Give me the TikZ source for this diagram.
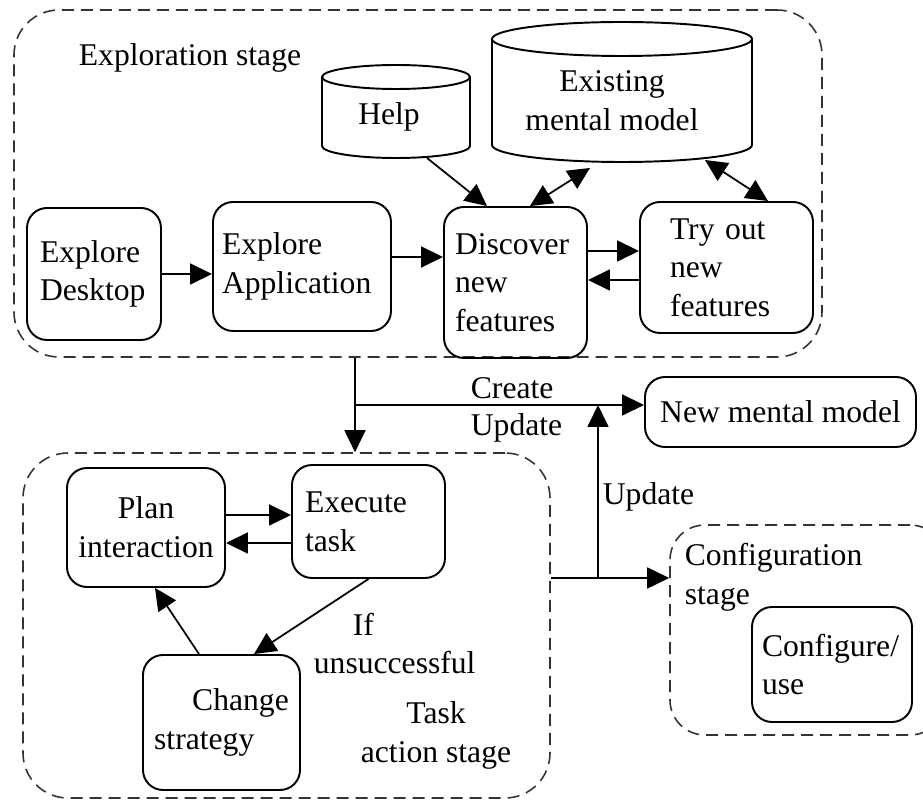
\documentclass[tikz,border=0pt]{standalone}
\usepackage{fontspec}
\setmainfont{Liberation Serif}
\usetikzlibrary{arrows.meta}

\begin{document}
\begin{tikzpicture}[line width=1pt,
  >={Triangle[length=0.44cm,width=0.42cm]},
  font=\fontsize{18}{22}\selectfont,
  stagebox/.style={draw, rounded corners=0.4cm, line width=1.1pt, align=left, inner xsep=0.22cm},
  region/.style={draw=black!80, dash pattern=on 0.24cm off 0.14cm, line width=0.9pt, rounded corners=0.9cm, inner sep=0},
  txt/.style={inner sep=0, align=left}]
\useasboundingbox (0,0) rectangle (18.46,-16.06);
% stage Exploration
\node[region, minimum width=16.16cm, minimum height=6.94cm] (expl) at (8.36,-3.67) {};
\node[txt, anchor=west] (expltitle) at (1.56,-1.16) {Exploration stage};
%% cylinder Help
\draw[line width=1.1pt, fill=white] (6.44,-1.54) -- (6.44,-2.92) arc[start angle=180, end angle=360, x radius=1.48cm, y radius=0.24cm] -- (9.40,-1.54);
\draw[line width=1.1pt] (7.92,-1.54) ellipse[x radius=1.48cm, y radius=0.24cm];
\node[txt] (help) at (7.78,-2.34) {Help};
\coordinate (helpbase) at (7.92,-3.16);
%% cylinder Existing mental model
\draw[line width=1.1pt, fill=white] (9.84,-0.78) -- (9.84,-2.90) arc[start angle=180, end angle=360, x radius=2.60cm, y radius=0.34cm] -- (15.04,-0.78);
\draw[line width=1.1pt] (12.44,-0.78) ellipse[x radius=2.60cm, y radius=0.34cm];
\node[txt, align=center] (exist) at (12.24,-2.02) {Existing\\mental model};
\coordinate (existbase) at (12.44,-3.24);
%% boxes of the exploration stage
\node[stagebox, text width=2.16cm, inner xsep=0.26cm, minimum height=2.64cm] (desk) at (1.88,-5.48) {Explore\\Desktop};
\node[stagebox, text width=3.20cm, inner xsep=0.18cm, minimum height=2.58cm] (app) at (6.04,-5.33) {Explore\\Application};
\node[stagebox, text width=2.42cm, minimum height=3.02cm] (disc) at (10.31,-5.65) {Discover\\new\\features};
\node[stagebox, text width=2.26cm, inner xsep=0.60cm, minimum height=2.62cm] (try) at (14.53,-5.35) {Try out\\new\\features};
\draw[->] (desk.east) -- (desk.east -| app.west);
\draw[->] ([yshift=0.19cm]app.east) -- ([yshift=0.19cm]app.east -| disc.west);
\draw[->] ([yshift=0.63cm]disc.east) -- ([yshift=0.63cm]disc.east -| try.west);
\draw[->] ([yshift=-0.25cm]try.west) -- ([yshift=-0.25cm]try.west -| disc.east);
\draw[->] ([xshift=0.62cm]helpbase) -- ([xshift=-0.57cm]disc.north);
\draw[<->] ([xshift=-0.64cm,yshift=-0.12cm]existbase) -- ([xshift=0.29cm]disc.north);
\draw[<->] ([xshift=1.66cm,yshift=0.04cm]existbase) -- ([xshift=0.83cm]try.north);
% New mental model
\node[stagebox, align=center, minimum width=5.42cm, minimum height=1.40cm] (nmm) at (15.61,-8.24) {New mental model};
\coordinate (split) at (7.10,-8.10);
\draw[->] (split) -- (split -| nmm.west);
\node[txt, anchor=west] (create) at (9.40,-7.76) {Create};
\node[txt, anchor=west] (update) at (9.40,-8.56) {Update};
% stage Task action
\node[region, minimum width=10.54cm, minimum height=6.90cm] (task) at (5.73,-12.51) {};
\draw[->] (split |- expl.south) -- (split |- task.north);
\node[stagebox, align=center, minimum width=3.16cm, minimum height=2.38cm] (plan) at (2.92,-10.55) {Plan\\interaction};
\node[stagebox, text width=2.54cm, inner xsep=0.26cm, minimum height=2.26cm] (exec) at (7.37,-10.43) {Execute\\task};
\node[stagebox, minimum width=3.14cm, minimum height=2.70cm] (change) at (4.43,-14.45) {\hspace*{0.76cm}Change\\strategy};
\draw[->] ([yshift=0.25cm]plan.east) -- ([yshift=0.25cm]plan.east -| exec.west);
\draw[->] ([yshift=-0.43cm]exec.west) -- ([yshift=-0.43cm]exec.west -| plan.east);
\draw[->] (exec.south) -- ([xshift=0.65cm]change.north);
\draw[->] ([xshift=-0.45cm]change.north) -- ([xshift=0.18cm]plan.south);
\node[txt, anchor=west] (unsucc) at (6.26,-12.87) {\hspace*{0.78cm}If\\unsuccessful};
\node[txt, align=center] (tasktitle) at (8.72,-14.71) {Task\\action stage};
%% stage Configuration
\node[region, rounded corners=0.7cm, minimum width=5.50cm, minimum height=4.20cm] (conf) at (16.15,-12.60) {};
\node[txt, anchor=west] (conftitle) at (13.68,-11.54) {Configuration\\stage};
\node[stagebox, text width=2.80cm, inner xsep=0.20cm, minimum height=2.30cm] (use) at (16.64,-13.29) {Configure/\\use};
\coordinate (join) at (11.96,-11.56);
\draw[->] ([yshift=0.95cm]task.east) -- ([yshift=0.95cm]task.east -| conf.west);
\draw[->] (join) -- (join |- split);
\node[txt, anchor=west] (update2) at (12.04,-9.94) {Update};
\end{tikzpicture}
\end{document}
